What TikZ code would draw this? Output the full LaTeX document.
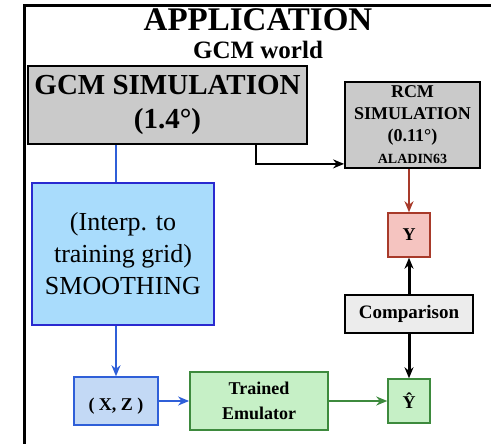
\documentclass[tikz,border=0pt]{standalone}
\usepackage{fontspec}
\setmainfont{Liberation Serif}
\usepackage{tikz}
\usetikzlibrary{arrows.meta, positioning, calc}

\definecolor{simgray}{HTML}{CACACA}
\definecolor{smoothblue}{HTML}{A9DCFC}
\definecolor{smoothedge}{HTML}{2A2AD0}
\definecolor{inblue}{HTML}{C3D9F5}
\definecolor{inedge}{HTML}{2F5FD8}
\definecolor{emugreen}{HTML}{C6F0C6}
\definecolor{emuedge}{HTML}{3D8A3D}
\definecolor{ypink}{HTML}{F5C4C0}
\definecolor{yedge}{HTML}{A83A2A}
\definecolor{compgray}{HTML}{ECECEC}

\begin{document}
\begin{tikzpicture}[x=1pt, y=-1pt]
\tikzset{
  box/.style={
    draw,
    rectangle,
    align=center,
    inner sep=0pt
  },
  simbox/.style={
    box,
    fill=simgray,
    line width=1.8pt
  },
  smallbox/.style={
    box,
    minimum width=42pt,
    minimum height=44pt,
    line width=1.5pt,
    font=\fontsize{18}{22}\selectfont\bfseries
  },
  link/.style={
    -{Stealth[length=11pt, width=9pt]},
    line width=2pt
  }
}
\useasboundingbox (0,0) rectangle (491,444);

% Frame of the application panel
\draw[line width=3pt] (24,444) -- (24,5.5) -- (491,5.5);

% Titles
\node[font=\fontsize{33}{36}\selectfont\bfseries] (title) at (258,20) {APPLICATION};
\node[font=\fontsize{25}{28}\selectfont\bfseries] (world) at (258,50) {GCM world};

% Simulations
\node[simbox, minimum width=279pt, minimum height=78pt,
      font=\fontsize{29}{34}\selectfont\bfseries] (gcm) at (167.5,105) {GCM SIMULATION\\(1.4°)};
\node[simbox, minimum width=135pt, minimum height=86pt,
      font=\fontsize{18}{22}\selectfont\bfseries] (rcm) at (412.5,125)
      {RCM\\SIMULATION\\(0.11°)\\\fontsize{14}{17}\selectfont ALADIN63};

% Smoothing step
\node[box, fill=smoothblue, draw=smoothedge, line width=2.8pt,
      minimum width=182pt, minimum height=142pt,
      font=\fontsize{26}{32}\selectfont] (smooth) at (123,254)
      {(Interp. to\\training grid)\\SMOOTHING};

% Emulator chain
\node[box, fill=inblue, draw=inedge, line width=1.5pt,
      minimum width=84pt, minimum height=48pt, text height=22pt, text depth=4pt,
      font=\fontsize{18}{22}\selectfont\bfseries] (xz) at (116,401) {( X, Z )};
\node[box, fill=emugreen, draw=emuedge, line width=1.8pt,
      minimum width=138pt, minimum height=58pt,
      font=\fontsize{18}{25}\selectfont\bfseries] (emu) at (259,401) {Trained\\Emulator};
\node[smallbox, fill=emugreen, draw=emuedge] (yhat) at (409,401) {Ŷ};

% Comparison with the RCM
\node[smallbox, fill=ypink, draw=yedge] (y) at (409,235) {Y};
\node[box, fill=compgray, line width=2.8pt, minimum width=128pt, minimum height=38pt,
      font=\fontsize{19}{22}\selectfont\bfseries] (comp) at (409,314) {Comparison};

% Connectors
\draw[line width=2pt, inedge] (gcm.south -| xz.north) -- (smooth.north -| xz.north);
\draw[link, inedge] (smooth.south -| xz.north) -- (xz.north);
\draw[link] ([xshift=88.5pt]gcm.south) |- ([yshift=5pt]rcm.south west);
\draw[link, yedge] (rcm.south -| y.north) -- (y.north);
\draw[link, line width=3pt] (comp.north) -- (y.south);
\draw[link, line width=3pt] (comp.south) -- (yhat.north);
\draw[link, inedge] (xz.east) -- (emu.west);
\draw[link, emuedge] (emu.east) -- (yhat.west);

\end{tikzpicture}
\end{document}
